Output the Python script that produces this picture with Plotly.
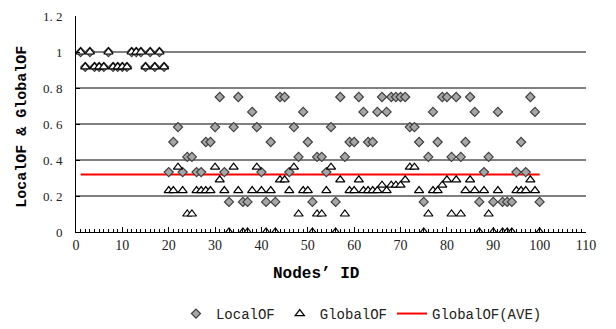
import plotly.graph_objects as go

nodes = list(range(1, 101))

local_of = [
    1, 0.917, 1, 0.917, 0.917, 0.917, 1, 0.917, 0.917, 0.917,
    0.917, 1, 1, 1, 0.917, 1, 0.917, 1, 0.917,
    0.333, 0.5, 0.583, 0.333, 0.417, 0.417, 0.333, 0.333, 0.5, 0.5,
    0.583, 0.75, 0.333, 0.167, 0.583, 0.75, 0.167, 0.167, 0.667, 0.583,
    0.333, 0.167, 0.5, 0.167, 0.75, 0.75, 0.333, 0.583, 0.417, 0.667,
    0.5, 0.167, 0.417, 0.417, 0.333, 0.583, 0.167, 0.75, 0.417, 0.5,
    0.5, 0.75, 0.667, 0.5, 0.5, 0.667, 0.75, 0.667, 0.75, 0.75,
    0.75, 0.75, 0.583, 0.583, 0.5, 0.167, 0.417, 0.667, 0.5, 0.75,
    0.75, 0.417, 0.75, 0.417, 0.5, 0.75, 0.667, 0.167, 0.333, 0.417,
    0.167, 0.667, 0.167, 0.167, 0.167, 0.333, 0.5, 0.333, 0.75, 0.667,
    0.167,
]

global_of = [
    1, 0.917, 1, 0.917, 0.917, 0.917, 1, 0.917, 0.917, 0.917,
    0.917, 1, 1, 1, 0.917, 1, 0.917, 1, 0.917,
    0.23, 0.23, 0.36, 0.23, 0.1, 0.1, 0.23, 0.23, 0.23, 0.23,
    0.36, 0.29, 0.23, 0, 0.36, 0.23, 0, 0, 0.23, 0.36,
    0.23, 0, 0.23, 0, 0.29, 0.29, 0.23, 0.36, 0.1, 0.23,
    0.23, 0, 0.1, 0.1, 0.23, 0.36, 0, 0.29, 0.1, 0.23,
    0.23, 0.29, 0.23, 0.23, 0.23, 0.23, 0.26, 0.23, 0.26, 0.26,
    0.26, 0.29, 0.36, 0.36, 0.23, 0, 0.1, 0.23, 0.23, 0.26,
    0.29, 0.1, 0.29, 0.1, 0.23, 0.29, 0.23, 0, 0.23, 0.1,
    0, 0.23, 0, 0, 0, 0.23, 0.23, 0.23, 0.29, 0.23,
    0,
]

global_ave = 0.32

x_ticks = list(range(0, 111, 10))
y_ticks = [0, 0.2, 0.4, 0.6, 0.8, 1.0, 1.2]
y_tick_labels = ["0", "0. 2", "0. 4", "0. 6", "0. 8", "1", "1. 2"]
grid_values = [0.2, 0.4, 0.6, 0.8, 1.0]
grid_colors = ["#808080", "#000000", "#000000", "#808080", "#000000"]
grid_widths = [2, 1, 1, 2, 1]

mono = "Liberation Mono"
serif = "Liberation Serif"

fig = go.Figure()

fig.add_trace(go.Scatter(
    x=[nodes[0], nodes[-1]], y=[global_ave, global_ave], mode="lines",
    name="GlobalOF(AVE)", line=dict(color="#ff0000", width=2),
    legendrank=3,
))
fig.add_trace(go.Scatter(
    x=nodes, y=local_of, mode="markers", name="LocalOF",
    marker=dict(symbol="diamond", size=7, color="#a6a6a6",
                line=dict(color="#404040", width=1.2)),
    legendrank=1,
))
fig.add_trace(go.Scatter(
    x=nodes, y=global_of, mode="markers", name="GlobalOF",
    marker=dict(symbol="triangle-up", size=8, color="#ffffff",
                line=dict(color="#000000", width=1.2)),
    legendrank=2,
))

shapes = []
for v, c, w in zip(grid_values, grid_colors, grid_widths):
    shapes.append(dict(type="line", xref="paper", x0=0, x1=1, yref="y",
                       y0=v, y1=v, line=dict(color=c, width=w), layer="below"))

annotations = [
    dict(text="<b>Nodes’ ID</b>", xref="paper", yref="paper", x=0.47, y=-0.194,
         xanchor="center", yanchor="middle", showarrow=False,
         font=dict(family=mono, size=16, color="black")),
    dict(text="<b>LocalOF & GlobalOF</b>", xref="paper", yref="paper", x=-0.105, y=0.489,
         xanchor="center", yanchor="middle", showarrow=False, textangle=-90,
         font=dict(family=mono, size=15, color="black")),
]

# page body has an 8px default margin, so margins are reduced to compensate
fig.update_layout(
    width=616, height=329,
    margin=dict(l=68, r=38, t=8, b=104),
    paper_bgcolor="white", plot_bgcolor="white",
    shapes=shapes, annotations=annotations,
    showlegend=True,
    legend=dict(orientation="h", x=0.196, xanchor="left", y=-0.373,
                yanchor="middle", font=dict(family=mono, size=14, color="#222"),
                traceorder="normal", itemwidth=30),
    xaxis=dict(range=[0, 110], tickvals=x_ticks, showgrid=False,
               showline=True, linecolor="black", linewidth=1,
               ticks="inside", ticklen=5, tickcolor="black",
               minor=dict(dtick=1, ticks="inside", ticklen=3, tickcolor="black"),
               tickfont=dict(family=serif, size=14, color="#222"),
               automargin=False, zeroline=False),
    yaxis=dict(range=[0, 1.2], tickvals=y_ticks, ticktext=y_tick_labels,
               showgrid=False, showline=True, linecolor="black", linewidth=1,
               ticks="inside", ticklen=4, tickcolor="black",
               ticklabelstandoff=10, ticklabeloverflow="allow",
               tickfont=dict(family=serif, size=13, color="#222"),
               automargin=False, zeroline=False),
)

fig.write_html("out.html", config={"displayModeBar": False})
